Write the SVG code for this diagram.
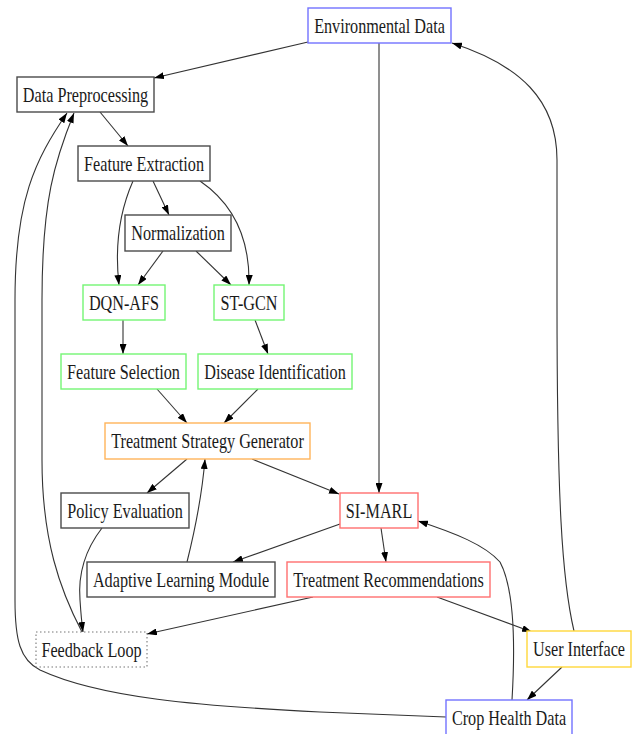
<svg xmlns="http://www.w3.org/2000/svg" width="635" height="734" viewBox="0 0 635 734">
<defs>
<marker id="arr" viewBox="0 0 10 7" refX="10" refY="3.5" markerWidth="10" markerHeight="7" markerUnits="userSpaceOnUse" orient="auto">
<path d="M0,0 L10,3.5 L0,7 z" fill="#000"/>
</marker>
</defs>
<style>
rect{fill:#fff;stroke-width:1.4}
.k{stroke:#4a4a4a}
.b{stroke:#7373ff}
.g{stroke:#74f574}
.r{stroke:#ff6f6f}
.o{stroke:#ffb45a}
.y{stroke:#ffd83a}
.d{stroke:#777;stroke-width:1.1;stroke-dasharray:1.5 2.5}
text{font-family:"Liberation Serif","Times New Roman",serif;font-size:16.2px;fill:#1a1a1a;text-anchor:middle}
#edges path{fill:none;stroke:#333;stroke-width:1.1;marker-end:url(#arr)}
</style>
<rect width="635" height="734" fill="#fff" style="stroke:none"/>
<g id="edges">
<path d="M308,42 L154,78"/>
<path d="M379,43 L379,493"/>
<path d="M100,112 L128,146"/>
<path d="M153,181 L169,215"/>
<path d="M133,181 C118,215 115,250 119,285"/>
<path d="M200,181 C235,205 250,240 249,285"/>
<path d="M163,251 L138,285"/>
<path d="M196,251 L231,285"/>
<path d="M123,320 L123,354"/>
<path d="M255,320 L268,354"/>
<path d="M157,389 L187,423"/>
<path d="M258,389 L224,423"/>
<path d="M187,459 L147,493"/>
<path d="M252,459 L339,494"/>
<path d="M187,562 C195,530 202,495 205,459"/>
<path d="M340,524 L233,562"/>
<path d="M381,528 L386,562"/>
<path d="M313,597 L147,634"/>
<path d="M437,597 L532,632"/>
<path d="M574,631 C562,580 557,500 557,300 L557,160 C557,100 520,65 452,43"/>
<path d="M562,667 L527,700"/>
<path d="M512,700 C515,650 515,590 500,562 C485,545 455,533 418,521"/>
<path d="M446,717 L320,712 C200,706 100,698 40,670 C20,660 15,640 15,600 L15,300 C15,200 35,160 67,113"/>
<path d="M82,632 C60,590 42,540 42,460 L42,300 C42,200 55,160 74,113"/>
<path d="M102,528 C85,550 78,575 80,600 C81,615 82,625 83,632"/>
</g>
<g id="env"><rect class="b" x="308" y="8" width="143" height="35"/><text transform="translate(379.5,32.5) scale(1,1.3)">Environmental Data</text></g>
<g id="datapre"><rect class="k" x="17" y="77" width="137" height="35"/><text transform="translate(85.5,101.5) scale(1,1.3)">Data Preprocessing</text></g>
<g id="featext"><rect class="k" x="78" y="146" width="132" height="35"/><text transform="translate(144,170.5) scale(1,1.3)">Feature Extraction</text></g>
<g id="norm"><rect class="k" x="125" y="215" width="106" height="36"/><text transform="translate(178,240) scale(1,1.3)">Normalization</text></g>
<g id="dqn"><rect class="g" x="83" y="285" width="82" height="35"/><text transform="translate(124,309.5) scale(1,1.3)">DQN-AFS</text></g>
<g id="stgcn"><rect class="g" x="214" y="285" width="70" height="35"/><text transform="translate(249,309.5) scale(1,1.3)">ST-GCN</text></g>
<g id="featsel"><rect class="g" x="61" y="354" width="125" height="35"/><text transform="translate(123.5,378.5) scale(1,1.3)">Feature Selection</text></g>
<g id="disease"><rect class="g" x="198" y="354" width="154" height="35"/><text transform="translate(275,378.5) scale(1,1.3)">Disease Identification</text></g>
<g id="tsg"><rect class="o" x="105" y="423" width="205" height="36"/><text transform="translate(207.5,448) scale(1,1.3)">Treatment Strategy Generator</text></g>
<g id="policy"><rect class="k" x="61" y="493" width="128" height="35"/><text transform="translate(125,517.5) scale(1,1.3)">Policy Evaluation</text></g>
<g id="simarl"><rect class="r" x="340" y="493" width="78" height="35"/><text transform="translate(379,517.5) scale(1,1.3)">SI-MARL</text></g>
<g id="adaptive"><rect class="k" x="87" y="562" width="188" height="35"/><text transform="translate(181,586.5) scale(1,1.3)">Adaptive Learning Module</text></g>
<g id="treatrec"><rect class="r" x="287" y="562" width="203" height="35"/><text transform="translate(388.5,586.5) scale(1,1.3)">Treatment Recommendations</text></g>
<g id="feedback"><rect class="d" x="36" y="632" width="111" height="35"/><text transform="translate(91.5,656.5) scale(1,1.3)">Feedback Loop</text></g>
<g id="ui"><rect class="y" x="527" y="631" width="104" height="36"/><text transform="translate(579,656) scale(1,1.3)">User Interface</text></g>
<g id="crop"><rect class="b" x="446" y="700" width="126" height="40"/><text transform="translate(509,724.5) scale(1,1.3)">Crop Health Data</text></g>
</svg>
